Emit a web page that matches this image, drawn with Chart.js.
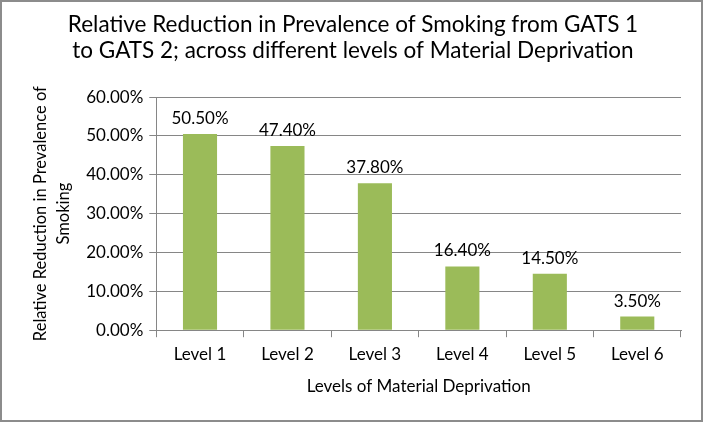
<!DOCTYPE html>
<html>
<head>
<meta charset="utf-8">
<script src="https://cdn.jsdelivr.net/npm/chart.js@4"></script>
<style>
  html, body { margin: 0; padding: 0; background: #fff; }
  #wrap { width: 703px; height: 422px; box-sizing: border-box; border: 2px solid #8c8c8c; position: relative; }
  canvas { display: block; }
</style>
</head>
<body>
<div id="wrap"><canvas id="chart-bar"></canvas></div>
<script>
const labels = ["Level 1", "Level 2", "Level 3", "Level 4", "Level 5", "Level 6"];
const values = [50.5, 47.4, 37.8, 16.4, 14.5, 3.5];
const barColor = "#9bbb59";
const fontFamily = "Lato, 'Open Sans', sans-serif";

// labels above each bar
const valueLabels = {
	id: "valueLabels",
	afterDatasetsDraw(chart) {
		const c = chart.ctx;
		const meta = chart.getDatasetMeta(0);
		c.save();
		c.font = "17px " + fontFamily;
		c.fillStyle = "#000";
		c.textAlign = "center";
		c.textBaseline = "bottom";
		meta.data.forEach((bar, i) => {
			c.fillText(values[i].toFixed(2) + "%", bar.x, bar.y - 7);
		});
		c.restore();
	},
};

const ctx = document.getElementById("chart-bar");

new Chart(ctx, {
	type: "bar",
	data: {
		labels: labels,
		datasets: [
			{
				data: values,
				backgroundColor: barColor,
				categoryPercentage: 0.39,
				barPercentage: 1,
			},
		],
	},
	options: {
		responsive: true,
		maintainAspectRatio: false,
		animation: false,
		layout: { padding: { top: 3, right: 20, bottom: 19, left: 23 } },
		plugins: {
			legend: { display: false },
			tooltip: { enabled: false },
			title: {
				display: true,
				text: [
					"Relative Reduction in Prevalence of Smoking from GATS 1",
					"to GATS 2; across different levels of Material Deprivation",
				],
				color: "#000",
				font: { family: fontFamily, size: 22.5, weight: "normal", lineHeight: 1.18 },
				padding: { top: 6, bottom: 33 },
			},
		},
		scales: {
			x: {
				grid: {
					offset: true,
					drawOnChartArea: false,
					color: "#868686",
					tickLength: 7,
				},
				border: { color: "#868686" },
				ticks: { color: "#000", font: { family: fontFamily, size: 17 }, padding: 7 },
				title: {
					display: true,
					text: "Levels of Material Deprivation",
					color: "#000",
					font: { family: fontFamily, size: 17 },
					padding: { top: 5 },
				},
			},
			y: {
				min: 0,
				max: 60,
				grid: { color: "#868686", tickLength: 7 },
				border: { color: "#868686" },
				ticks: {
					stepSize: 10,
					color: "#000",
					font: { family: fontFamily, size: 17 },
					padding: 6,
					callback: (v) => v.toFixed(2) + "%",
				},
				title: {
					display: true,
					text: ["Relative Reduction in Prevalence of", "Smoking"],
					color: "#000",
					font: { family: fontFamily, size: 16.5, lineHeight: 1.4 },
					padding: { bottom: 5 },
				},
			},
		},
	},
	plugins: [valueLabels],
});
</script>
</body>
</html>
